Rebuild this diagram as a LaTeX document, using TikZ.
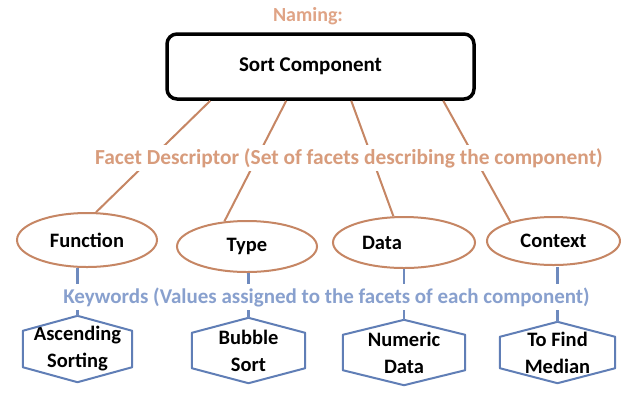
\documentclass[tikz,border=0pt]{standalone}
\usepackage{fontspec}
\setmainfont{Carlito}
\usetikzlibrary{shapes.geometric}

\definecolor{facetline}{RGB}{198,134,100}
\definecolor{facettext}{RGB}{216,156,124}
\definecolor{namingtext}{RGB}{224,164,134}
\definecolor{keytext}{RGB}{136,160,206}
\definecolor{keyline}{RGB}{110,138,190}
\definecolor{hexborder}{RGB}{96,126,182}

\begin{document}
\begin{tikzpicture}[x=1pt,y=-1pt,
  facet/.style={ellipse, draw=facetline, line width=2pt, inner sep=0pt,
    font=\bfseries\fontsize{20.5}{22}\selectfont},
  keyhex/.style={inner sep=0pt, align=center,
    font=\bfseries\fontsize{20.5}{27}\selectfont},
  hexline/.style={draw=hexborder, line width=2pt, line join=round},
  tie/.style={draw=facetline, line width=2pt},
  keytie/.style={draw=keyline, line width=2.2pt},
  banner/.style={fill=white, inner sep=3pt}]
\useasboundingbox[fill=white] (0,0) rectangle (621,392);

% title and component box
\node[text=namingtext, font=\bfseries\fontsize{20}{22}\selectfont] (naming) at (308,16) {Naming:};
\node[draw, line width=3.5pt, rounded corners=10pt, minimum width=307pt,
  minimum height=65pt, font=\bfseries\fontsize{21}{23}\selectfont] (comp) at (320.5,66.5)
  {Sort Component\kern20pt};

% facets
\node[facet, minimum width=140pt, minimum height=54pt] (fn) at (87,240) {Function};
\node[facet, minimum width=140pt, minimum height=51pt] (ty) at (247,246.5) {Type};
\node[facet, minimum width=142pt, minimum height=51pt] (da) at (404,242.5) {Data\kern44pt};
\node[facet, minimum width=133pt, minimum height=48pt] (cx) at (553.5,241) {Context};

% keyword hexagons
\node[keyhex, minimum width=109pt, minimum height=66pt] (asc) at (77.5,349) {Ascending\\Sorting};
\node[keyhex, minimum width=113pt, minimum height=65pt] (bub) at (248.5,350.5) {Bubble\\Sort};
\node[keyhex, minimum width=122pt, minimum height=65pt] (num) at (404,352.5) {Numeric\\Data};
\node[keyhex, minimum width=115pt, minimum height=61pt] (med) at (557.5,352.5) {To Find\\Median};
\foreach \h in {asc,bub,num,med}
  \draw[hexline] (\h.north) -- ([yshift=-15pt]\h.north east) -- ([yshift=15pt]\h.south east)
    -- (\h.south) -- ([yshift=15pt]\h.south west) -- ([yshift=-15pt]\h.north west) -- cycle;

% component to facets
\draw[tie] ([xshift=45pt]comp.south west) -- (fn.72);
\draw[tie] ([xshift=121pt]comp.south west) -- (ty.132);
\draw[tie] ([xshift=186pt]comp.south west) -- (da.112);
\draw[tie] ([xshift=278pt]comp.south west) -- (cx.156);

% facets to keywords
\draw[keytie] (fn.south -| asc.north) -- (asc.north);
\draw[keytie] (ty.south -| bub.north) -- (bub.north);
\draw[keytie] (da.south -| num.north) -- (num.north);
\draw[keytie] ([yshift=-1pt]cx.south -| med.north) -- (med.north);

% level captions
\node[banner, text=facettext, font=\bfseries\fontsize{21.4}{23}\selectfont] (facetcap) at (349,158)
  {Facet Descriptor (Set of facets describing the component)};
\node[banner, text=keytext, font=\bfseries\fontsize{21}{23}\selectfont] (keycap) at (326.5,297)
  {Keywords (Values assigned to the facets of each component)};
\end{tikzpicture}
\end{document}
